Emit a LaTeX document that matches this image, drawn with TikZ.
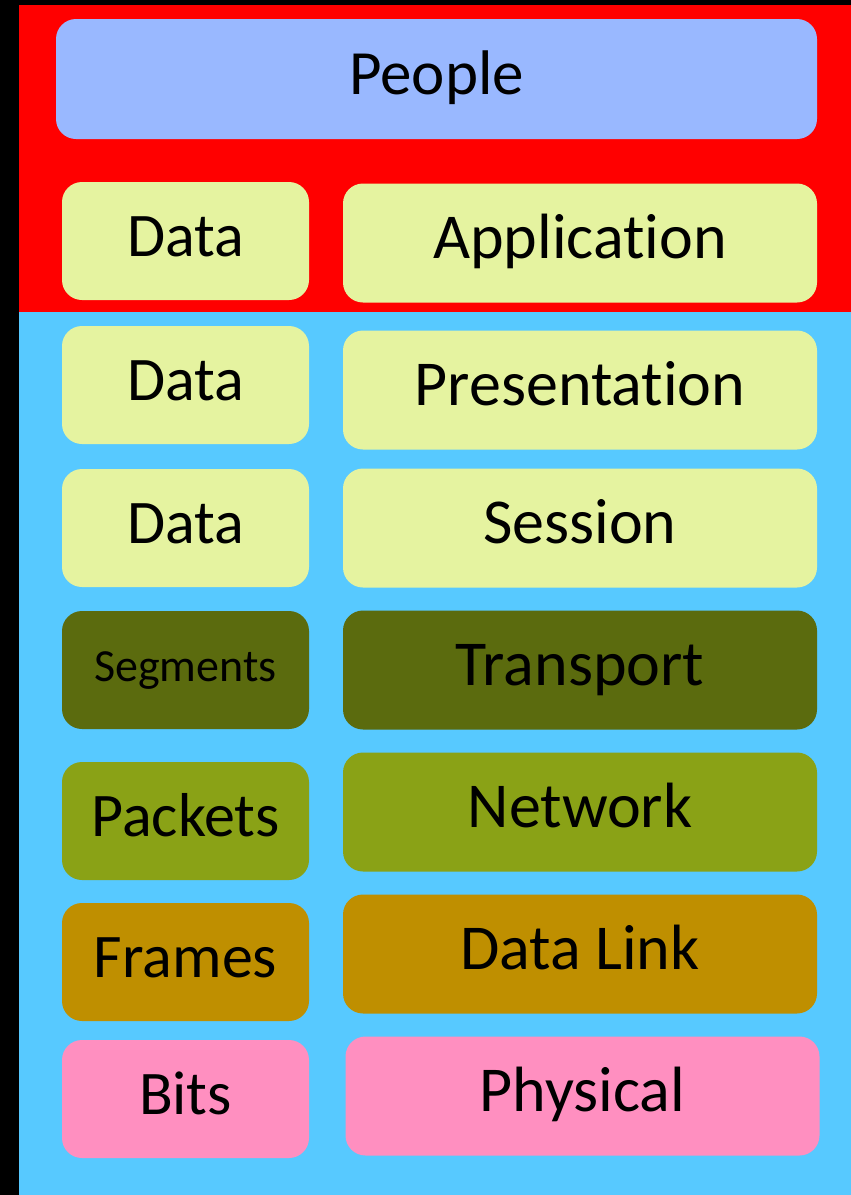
\documentclass[tikz,border=0pt]{standalone}
\usepackage{fontspec}
\setmainfont{Carlito}[Ligatures=NoCommon]
\usepackage{xcolor}
\usetikzlibrary{positioning}

\definecolor{bgred}{HTML}{FF0000}
\definecolor{bgblue}{HTML}{57C9FF}
\definecolor{peoplecol}{HTML}{99B8FF}
\definecolor{datacol}{HTML}{E5F3A0}
\definecolor{segcol}{HTML}{5B6B0E}
\definecolor{packcol}{HTML}{8AA216}
\definecolor{framecol}{HTML}{BF8F00}
\definecolor{bitcol}{HTML}{FF8FC0}

\tikzset{
    layer/.style={rounded corners=20pt, inner sep=0pt, text=black,
        text height=42pt, text depth=12pt,
        font=\fontsize{62}{70}\selectfont},
    unit/.style={layer, minimum width=247pt, minimum height=118pt},
    osi/.style={layer, minimum width=474pt, minimum height=119pt,
        font=\fontsize{64}{72}\selectfont}
}

\begin{document}
\begin{tikzpicture}[x=1pt, y=-1pt]
                    \useasboundingbox (0, 0) rectangle (851, 1195);
                    \fill[black] (0, 0) rectangle (851, 1195);
                    \fill[bgred] (19, 5) rectangle (851, 312);
                    \fill[bgblue] (19, 312) rectangle (851, 1195);

                    \node[layer, fill=peoplecol, minimum width=761pt, minimum height=120pt,
                        font=\fontsize{63}{70}\selectfont] (people) at (436.5, 79) {People};

                    \node[unit, fill=datacol] (data1) at (185.5, 241) {Data};
                    \node[osi, fill=datacol] (app) at (580, 243) {Application};

                    \node[unit, fill=datacol] (data2) at (185.5, 385) {Data};
                    \node[osi, fill=datacol] (pres) at (580, 390) {Presentation};

                    \node[unit, fill=datacol] (data3) at (185.5, 528) {Data};
                    \node[osi, fill=datacol] (sess) at (580, 528) {Session};

                    \node[unit, fill=segcol, font=\fontsize{46}{50}\selectfont,
                        text height=31pt, text depth=9pt] (seg) at (185.5, 670) {Segments};
                    \node[osi, fill=segcol] (trans) at (580, 670) {Transport};

                    \node[unit, fill=packcol] (pack) at (185.5, 821) {Packets};
                    \node[osi, fill=packcol] (net) at (580, 812) {Network};

                    \node[unit, fill=framecol] (frame) at (185.5, 962) {Frames};
                    \node[osi, fill=framecol] (link) at (580, 954) {Data Link};

                    \node[unit, fill=bitcol] (bits) at (185.5, 1099) {Bits};
                    \node[osi, fill=bitcol] (phys) at (582.5, 1096) {Physical};
                \end{tikzpicture}
\end{document}
